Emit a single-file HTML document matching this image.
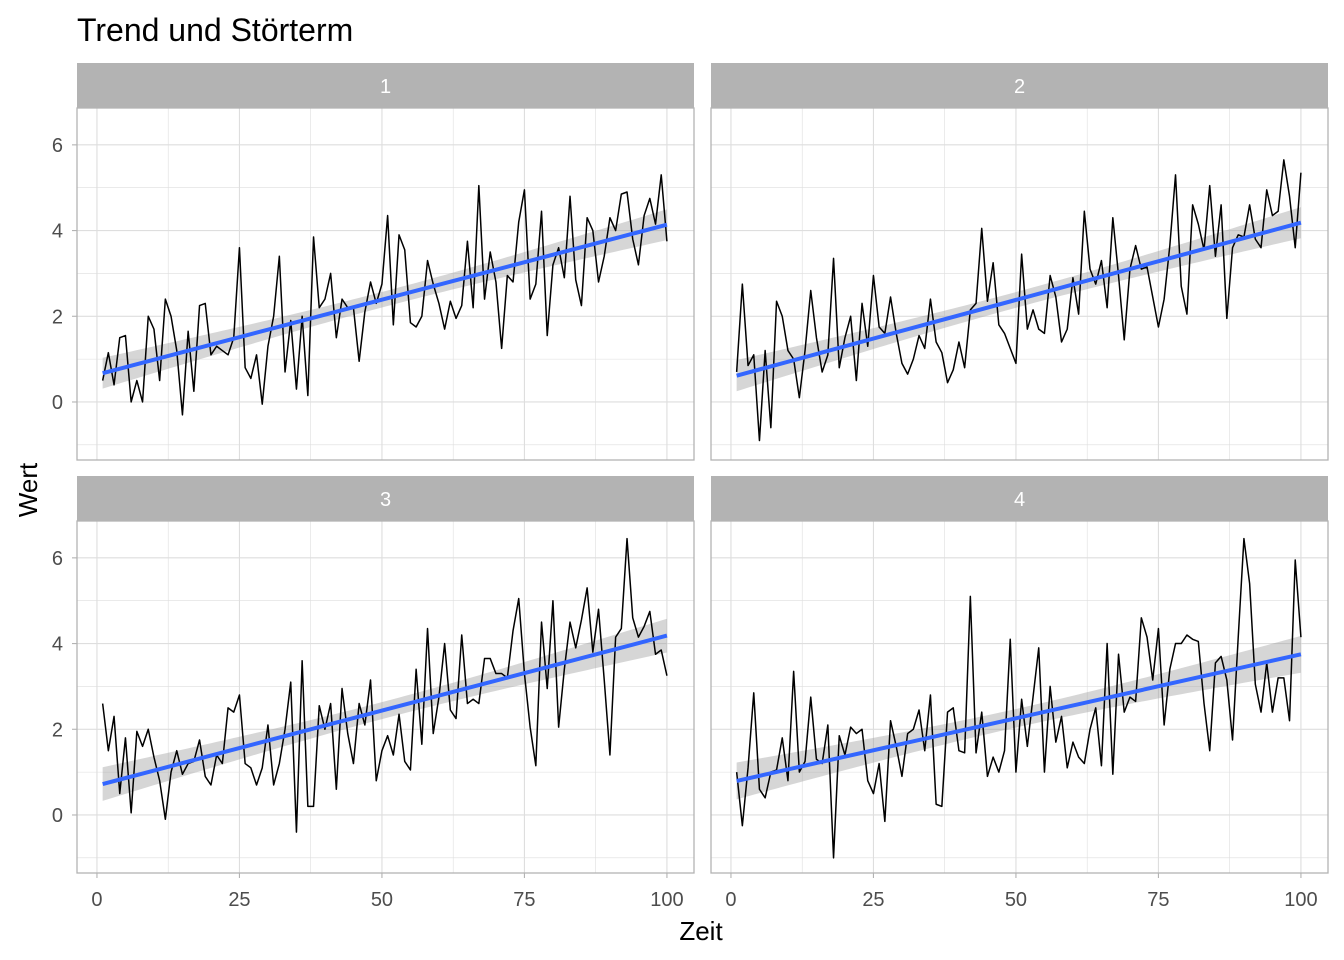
<!DOCTYPE html>
<html><head><meta charset="utf-8"><style>
body{margin:0;background:#fff}
svg{display:block;font-family:"Liberation Sans",sans-serif}
</style></head><body>
<svg id="c" width="1344" height="960">
<text x="77" y="41" font-size="32" fill="#000">Trend und Störterm</text>
<text x="701" y="940" font-size="26" text-anchor="middle" fill="#000">Zeit</text>
<text transform="translate(37,490) rotate(-90)" font-size="26" text-anchor="middle" fill="#000">Wert</text>
</svg>
<script>
const panelLabels=["1","2","3","4"];
const series1=[0.5,1.15,0.4,1.5,1.55,0.0,0.5,0.0,2.0,1.7,0.5,2.4,2.0,1.2,-0.3,1.65,0.25,2.25,2.3,1.1,1.3,1.2,1.1,1.5,3.6,0.8,0.55,1.1,-0.05,1.3,2.0,3.4,0.7,1.9,0.3,2.0,0.15,3.85,2.2,2.4,3.0,1.5,2.4,2.2,2.2,0.95,2.1,2.8,
2.3,2.75,4.35,1.8,3.9,3.55,1.85,1.75,2.0,3.3,2.75,2.3,1.7,2.35,1.95,2.25,3.75,2.2,5.05,2.4,3.5,2.8,1.25,2.95,2.8,4.2,4.95,2.4,2.75,4.45,1.55,3.2,3.6,2.9,4.8,2.85,2.25,4.3,4.0,2.8,3.4,4.3,4.0,4.85,4.9,3.8,3.2,4.35,4.75,4.15,5.3,3.75];
const series2=[0.7,2.75,0.85,1.1,-0.9,1.2,-0.6,2.35,2.0,1.2,1.0,0.1,1.2,2.6,1.5,0.7,1.1,3.35,0.8,1.5,2.0,0.5,2.3,1.3,2.95,
1.75,1.6,2.45,1.6,0.9,0.65,1.0,1.55,1.25,2.4,1.4,1.15,0.45,0.75,1.4,0.8,2.15,2.3,4.05,2.35,3.25,1.8,1.6,1.25,
0.9,3.45,1.7,2.15,1.7,1.6,2.95,2.45,1.4,1.7,2.9,2.05,4.45,3.1,2.75,3.3,2.2,4.3,2.95,1.45,3.1,3.65,3.1,3.15,2.45,1.75,2.4,3.65,5.3,2.7,2.05,4.6,4.15,3.55,5.05,3.4,4.6,1.95,3.6,3.9,3.85,4.6,3.8,3.6,4.95,4.35,4.45,5.65,4.8,3.6,5.35];
const series3=[2.6,1.5,2.3,0.5,1.8,0.05,1.95,1.6,2.0,1.35,0.8,-0.1,1.0,1.5,0.95,1.2,1.25,1.75,0.9,0.7,1.4,1.2,2.5,2.4,2.8,1.2,1.1,0.7,1.1,2.1,0.7,1.2,2.0,3.1,-0.4,3.6,0.2,0.2,2.55,2.0,2.6,0.6,2.95,1.9,1.2,2.6,2.1,3.15,
0.8,1.5,1.85,1.4,2.35,1.25,1.05,3.4,1.65,4.35,1.9,2.75,4.0,2.45,2.25,4.2,2.6,2.7,2.6,3.65,3.65,3.3,3.3,3.2,4.3,5.05,3.3,2.05,1.15,4.5,2.95,5.0,2.05,3.4,4.5,3.9,4.55,5.3,3.8,4.8,3.15,1.4,4.15,4.35,6.45,4.6,4.15,4.4,4.75,3.75,3.85,3.25];
const series4=[1.0,-0.25,1.1,2.85,0.6,0.4,1.0,1.05,1.8,0.8,3.35,1.0,1.25,2.75,1.3,1.2,2.1,-1.0,1.85,1.4,2.05,1.9,2.0,0.8,0.5,1.2,-0.15,2.2,1.6,0.9,1.9,2.0,2.45,1.5,2.8,0.25,0.2,2.4,2.5,1.5,1.45,5.1,1.45,2.4,0.9,1.35,1.0,1.5,
4.1,1.0,2.7,1.6,2.75,3.9,1.0,3.0,1.7,2.3,1.1,1.7,1.35,1.2,2.0,2.5,1.15,4.0,0.95,3.75,2.4,2.75,2.65,4.6,4.15,3.15,4.35,2.1,3.4,4.0,4.0,4.2,4.1,4.05,2.6,1.5,3.55,3.7,3.15,1.75,4.15,6.45,5.4,3.05,2.4,3.55,2.4,3.2,3.2,2.2,5.95,4.15];
const xTicks=[0,25,50,75,100];
const yTicks=[0,2,4,6];
const allSeries=[series1,series2,series3,series4];

const svg=document.getElementById('c');
const NS='http://www.w3.org/2000/svg';
function mk(tag,attrs,parent){const e=document.createElementNS(NS,tag);for(const k in attrs)e.setAttribute(k,attrs[k]);(parent||svg).appendChild(e);return e;}
const panels=[{l:77,t:108,col:0,row:0},{l:711,t:108,col:1,row:0},{l:77,t:521,col:0,row:1},{l:711,t:521,col:1,row:1}];
const PW=617,PH=352,X0=-3.5,X1=104.75,Y0=-1.354,Y1=6.86;
panels.forEach((p,pi)=>{
  const xs=v=>p.l+(v-X0)/(X1-X0)*PW;
  const ys=v=>p.t+PH-(v-Y0)/(Y1-Y0)*PH;
  const g=mk('g',{});
  
  
  const s=mk('rect',{x:p.l,y:p.t-45,width:PW,height:45,fill:'#b3b3b3'},g);
  
  
  const st=mk('text',{x:p.l+PW/2,y:p.t-15,'font-size':20,fill:'#fff','text-anchor':'middle'},g);
  st.textContent=panelLabels[pi];
  
  
  for(let v=-1;v<=6;v++){if(v<Y0)continue;mk('line',{x1:p.l,x2:p.l+PW,y1:ys(v),y2:ys(v),stroke:'#dedede','stroke-width':v%2===0?1.1:0.6},g);}
  for(let v=0;v<=100;v+=12.5){mk('line',{y1:p.t,y2:p.t+PH,x1:xs(v),x2:xs(v),stroke:'#dedede','stroke-width':v%25===0?1.1:0.6},g);}
  const d=allSeries[pi].slice(0,100);const n=d.length;
  let sx=0,sy=0;d.forEach((v,i)=>{sx+=i+1;sy+=v;});const mx=sx/n,my=sy/n;
  let sxx=0,sxy=0;d.forEach((v,i)=>{sxx+=(i+1-mx)**2;sxy+=(i+1-mx)*(v-my);});
  const b=sxy/sxx,a=my-b*mx;let ss=0;d.forEach((v,i)=>{ss+=(v-a-b*(i+1))**2;});const sig=Math.sqrt(ss/(n-2));
  let up=[],lo=[];for(let x=1;x<=n;x+=1){const se=1.984*sig*Math.sqrt(1/n+(x-mx)**2/sxx);const f=a+b*x;up.push(xs(x)+','+ys(f+se));lo.unshift(xs(x)+','+ys(f-se));}
  const band=mk('polygon',{points:up.concat(lo).join(' '),fill:'#999','fill-opacity':0.4},g);
  
  
  const ln=mk('polyline',{points:d.map((v,i)=>xs(i+1)+','+ys(v)).join(' '),fill:'none',stroke:'#000','stroke-width':1.5,'stroke-linejoin':'round'},g);
  
  
  const tr=mk('line',{x1:xs(1),y1:ys(a+b),x2:xs(n),y2:ys(a+b*n),stroke:'#3366ff','stroke-width':4},g);
  
  
  mk('rect',{x:p.l,y:p.t,width:PW,height:PH,fill:'none',stroke:'#b3b3b3','stroke-width':1.3},g);
  if(p.col===0){yTicks.forEach(v=>{mk('line',{x1:p.l-5,x2:p.l,y1:ys(v),y2:ys(v),stroke:'#b3b3b3','stroke-width':1.1},g);const t=mk('text',{x:p.l-14,y:ys(v)+7,'font-size':20,fill:'#4d4d4d','text-anchor':'end'},g);t.textContent=v;});}
  if(p.row===1){xTicks.forEach(v=>{mk('line',{x1:xs(v),x2:xs(v),y1:p.t+PH,y2:p.t+PH+5,stroke:'#b3b3b3','stroke-width':1.1},g);const t=mk('text',{x:xs(v),y:p.t+PH+33,'font-size':20,fill:'#4d4d4d','text-anchor':'middle'},g);t.textContent=v;});}
});
</script>
</body></html>
